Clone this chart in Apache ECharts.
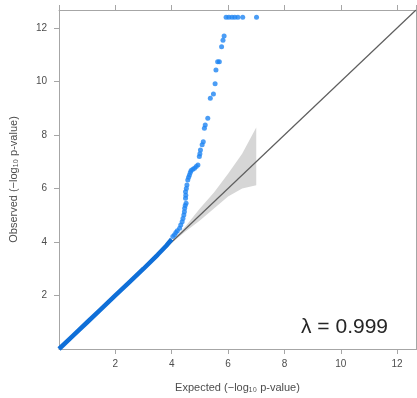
<!DOCTYPE html>
<html>
<head>
<meta charset="utf-8">
<script src="https://cdn.jsdelivr.net/npm/echarts@6/dist/echarts.min.js"></script>
<style>
  html, body { margin: 0; padding: 0; background: #fff; }
  #chart { width: 417px; height: 398px; }
</style>
</head>
<body>
<div id="chart"></div>
<script>
// axis range (-log10 p) and ticks
const axisMax = 12.67;
const tickStep = 2;

// dense lower part of the QQ cloud (drawn as a thick trace)
const denseExpected = [0, 0.5, 1, 1.5, 2, 2.5, 3, 3.5, 3.8, 4.0];
const denseObserved = [0, 0.5, 1, 1.5, 2, 2.5, 3, 3.52, 3.85, 4.1];

// upper tail points
const tailExpected = [4.04, 4.1, 4.15, 4.2, 4.28, 4.32, 4.37, 4.4, 4.43, 4.45, 4.46, 4.48, 4.51, 4.49, 4.5, 4.49, 4.52, 4.54, 4.57, 4.6, 4.63, 4.66, 4.69, 4.75, 4.81, 4.87, 4.93, 4.98, 5.0, 5.02, 5.08, 5.12, 5.16, 5.19, 5.28, 5.37, 5.48, 5.54, 5.57, 5.63, 5.69, 5.77, 5.82, 5.86, 5.93, 6.03, 6.14, 6.24, 6.35, 6.52, 7.01];
const tailObserved = [4.2, 4.27, 4.35, 4.42, 4.51, 4.63, 4.76, 4.88, 5.01, 5.13, 5.26, 5.36, 5.45, 5.63, 5.75, 5.88, 6.0, 6.13, 6.32, 6.42, 6.5, 6.6, 6.67, 6.72, 6.76, 6.82, 6.88, 7.19, 7.3, 7.44, 7.63, 7.75, 8.25, 8.37, 8.62, 9.37, 9.53, 9.91, 10.43, 10.74, 10.74, 11.3, 11.54, 11.7, 12.4, 12.4, 12.4, 12.4, 12.4, 12.4, 12.4];

// confidence band around the null line
const bandExpected = [4.0, 4.5, 5.0, 5.5, 6.0, 6.5, 7.0, 7.0];
const bandUpper = [4.03, 4.6, 5.25, 5.85, 6.55, 7.3, 8.28, 8.28];
const bandLower = [3.97, 4.4, 4.8, 5.25, 5.7, 6.0, 6.12, 6.12];

const lambdaText = 'λ = 0.999';

const chart = echarts.init(document.getElementById('chart'));
const font = '"Liberation Sans", Arial, sans-serif';
const axisGray = '#a6a6a6';
const labelGray = '#4d4d4d';

const baseAxis = {
  type: 'value',
  min: 0,
  max: axisMax,
  interval: tickStep,
  splitLine: { show: false },
  axisLine: { show: true, onZero: false, lineStyle: { color: axisGray, width: 1 } },
  axisTick: { show: true, inside: false, length: 5, lineStyle: { color: axisGray } },
  axisLabel: {
    color: labelGray, fontSize: 10, fontFamily: font,
    showMinLabel: false, showMaxLabel: false,
    formatter: v => (v % tickStep === 0 ? String(v) : '')
  }
};

const option = {
  animation: false,
  backgroundColor: '#fff',
  title: {
    text: lambdaText,
    right: 24,
    top: 312,
    textStyle: { fontFamily: font, fontSize: 21, fontWeight: 'normal', color: '#262626' }
  },
  grid: { left: 58, right: 1, top: 10, bottom: 49 },
  xAxis: [
    Object.assign({}, baseAxis, {
      position: 'bottom',
      name: 'Expected (−log₁₀ p-value)',
      nameLocation: 'middle',
      nameGap: 33,
      nameTextStyle: { color: labelGray, fontSize: 11, fontFamily: font },
      axisLabel: Object.assign({}, baseAxis.axisLabel, { margin: 10 })
    }),
    Object.assign({}, baseAxis, {
      position: 'top',
      axisLabel: { show: false }
    })
  ],
  yAxis: [
    Object.assign({}, baseAxis, {
      position: 'left',
      name: 'Observed (−log₁₀ p-value)',
      nameLocation: 'middle',
      nameGap: 40,
      nameTextStyle: { color: labelGray, fontSize: 11, fontFamily: font },
      axisLabel: Object.assign({}, baseAxis.axisLabel, { margin: 12 })
    }),
    Object.assign({}, baseAxis, {
      position: 'right',
      axisLabel: { show: false }
    })
  ],
  series: [
    {
      name: 'band',
      type: 'custom',
      silent: true,
      z: 1,
      data: [0],
      renderItem: (params, api) => {
        const pts = [];
        bandExpected.forEach((x, i) => pts.push(api.coord([x, bandUpper[i]])));
        for (let i = bandExpected.length - 1; i >= 0; i--) {
          pts.push(api.coord([bandExpected[i], bandLower[i]]));
        }
        return {
          type: 'polygon',
          shape: { points: pts },
          style: { fill: '#d6d6d6' }
        };
      }
    },
    {
      name: 'null',
      type: 'line',
      z: 2,
      symbol: 'none',
      lineStyle: { color: '#5e5e5e', width: 1.2 },
      data: [[0, 0], [axisMax, axisMax]]
    },
    {
      name: 'observed (dense)',
      type: 'line',
      z: 3,
      symbol: 'none',
      lineStyle: { color: '#0f6fd8', width: 4.5 },
      data: denseExpected.map((x, i) => [x, denseObserved[i]])
    },
    {
      name: 'observed',
      type: 'scatter',
      z: 4,
      symbolSize: 5,
      itemStyle: { color: '#1e84f2' },
      data: tailExpected.map((x, i) => [x, tailObserved[i]])
    }
  ]
};

chart.setOption(option);
</script>
</body>
</html>
